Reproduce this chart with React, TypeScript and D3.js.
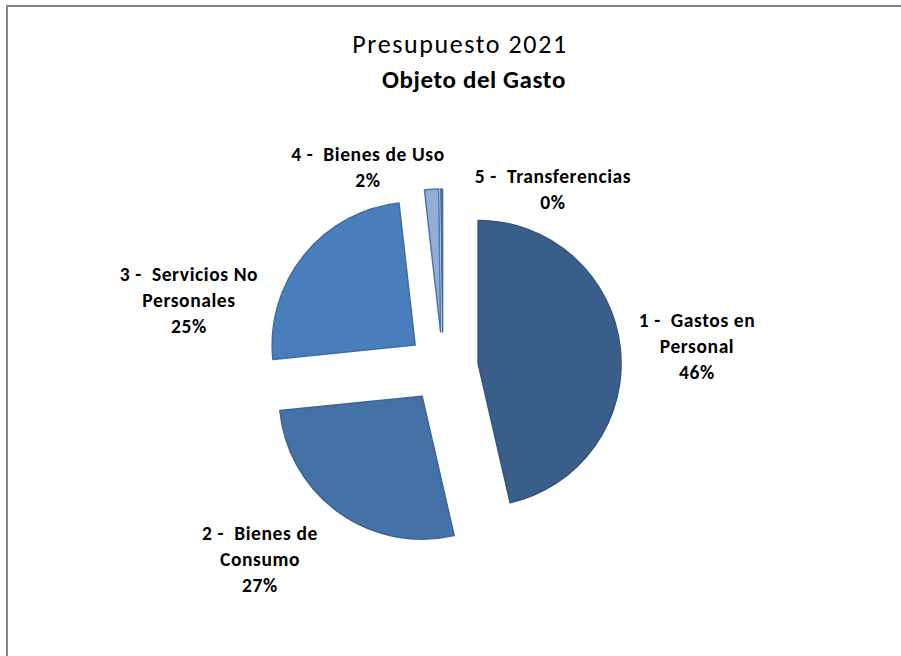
import React from "react";
import * as d3 from "d3";

// ---- data ----
const categories = [
  "1 -  Gastos en Personal",
  "2 -  Bienes de Consumo",
  "3 -  Servicios No Personales",
  "4 -  Bienes de Uso",
  "5 -  Transferencias",
];
const shares = [46.4, 27.0, 24.8, 1.6, 0.2];
const titleLine1 = "Presupuesto 2021";
const titleLine2 = "Objeto del Gasto";

// ---- layout / style ----
const W = 901;
const H = 656;
const CX = 442.8;
const CY = 367.4;
const R = 143;
const EXPLODE = 35.5;
const fills = ["#3A5E8A", "#4471A6", "#4A7EBB", "#95ACD6", "#4A7EBB"];
const strokes = ["#34557D", "#3D6596", "#3F6EA6", "#4F78AE", "#3F6EA6"];
// label line breaks and anchor (center x, first baseline)
const labelLines = [
  ["1 -  Gastos en", "Personal"],
  ["2 -  Bienes de", "Consumo"],
  ["3 -  Servicios No", "Personales"],
  ["4 -  Bienes de Uso"],
  ["5 -  Transferencias"],
];
const labelAnchors: [number, number][] = [
  [697, 327],
  [260, 540],
  [189, 281],
  [368, 161],
  [553, 183],
];
const LINE_H = 26;
const FONT = "Carlito, Calibri, Lato, 'Open Sans', sans-serif";

export default function App() {
  const pie = d3
    .pie<number>()
    .sort(null)
    .value((d) => d)
    .startAngle(0)
    .endAngle(2 * Math.PI);
  const arcs = pie(shares);
  const arc = d3.arc<d3.PieArcDatum<number>>().innerRadius(0).outerRadius(R);
  const total = d3.sum(shares);

  return (
    <svg
      width={W}
      height={H}
      style={{ position: "absolute", left: 0, top: 0, background: "#fff" }}
      fontFamily={FONT}
    >
      <rect x={0} y={0} width={W} height={H} fill="#fff" />
      <rect x={7} y={6} width={W + 20} height={H + 20} fill="none" stroke="#868686" strokeWidth={2} />
      <text x={460} y={53} textAnchor="middle" fontSize={26} letterSpacing={1.6} fill="#000">
        {titleLine1}
      </text>
      <text x={474} y={88} textAnchor="middle" fontSize={25} letterSpacing={0.6} fontWeight="bold" fill="#000">
        {titleLine2}
      </text>
      {arcs.map((a, i) => {
        const mid = (a.startAngle + a.endAngle) / 2;
        const dx = EXPLODE * Math.sin(mid);
        const dy = -EXPLODE * Math.cos(mid);
        return (
          <path
            key={categories[i]}
            d={arc(a) || ""}
            transform={`translate(${CX + dx},${CY + dy})`}
            fill={fills[i]}
            stroke={strokes[i]}
            strokeWidth={1.5}
            strokeLinejoin="round"
          />
        );
      })}
      {arcs.map((a, i) => {
        const [lx, ly] = labelAnchors[i];
        const lines = [...labelLines[i], `${Math.round((shares[i] / total) * 100)}%`];
        return (
          <text
            key={"l" + i}
            x={lx}
            y={ly}
            textAnchor="middle"
            fontSize={19.5}
            letterSpacing={0.6}
            fontWeight="bold"
            fill="#000"
            style={{ whiteSpace: "pre" }}
          >
            {lines.map((t, j) => (
              <tspan key={j} x={lx} y={ly + j * LINE_H}>
                {t}
              </tspan>
            ))}
          </text>
        );
      })}
    </svg>
  );
}
